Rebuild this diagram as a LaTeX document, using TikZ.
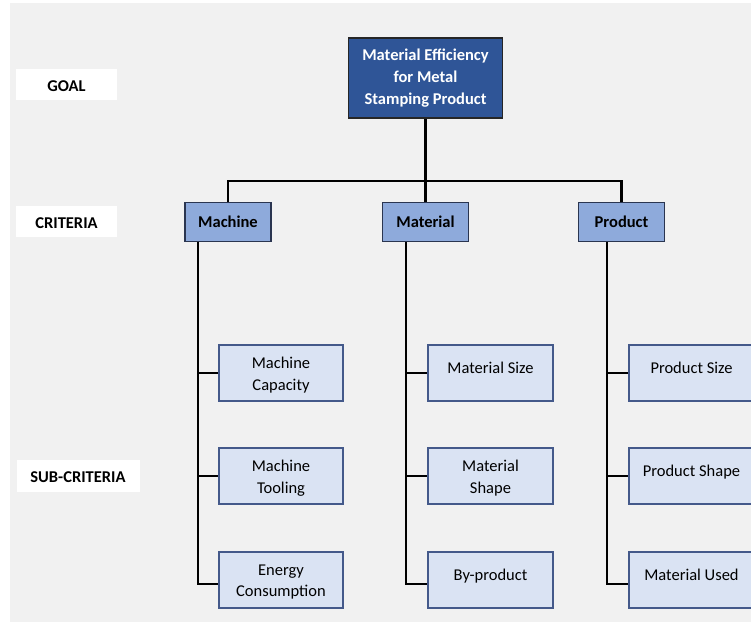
\documentclass[tikz,border=0pt]{standalone}
\usepackage{fontspec}
\setmainfont{Carlito}
\usetikzlibrary{calc}
\definecolor{bggray}{HTML}{F1F1F1}
\definecolor{goalblue}{HTML}{2F5597}
\definecolor{critblue}{HTML}{8EAADB}
\definecolor{subblue}{HTML}{DAE3F3}
\definecolor{subedge}{HTML}{44598A}
\definecolor{critedge}{HTML}{2A3550}
\newcommand{\oneline}[1]{\raisebox{3.5pt}[\height][\depth]{\strut #1}}
\newcommand{\topline}[1]{\raisebox{0pt}[\dimexpr\height+4pt\relax][\depth]{#1}}
\newcommand{\lvltext}[1]{\raisebox{-2pt}[\height][\depth]{#1}}
\tikzset{
  lvlbox/.style={fill=white, draw=none, inner sep=0pt, font=\bfseries\fontsize{16.5}{20}\selectfont},
  goalbox/.style={fill=goalblue, draw=black!85, line width=1.3pt, minimum width=154pt, minimum height=80pt, inner sep=0pt, align=center, text=white, font=\bfseries\fontsize{16.5}{22}\selectfont},
  critbox/.style={fill=critblue, draw=critedge, line width=1.3pt, minimum width=86pt, minimum height=39pt, inner sep=0pt, font=\bfseries\fontsize{16.5}{20}\selectfont},
  subbox/.style={fill=subblue, draw=subedge, line width=1.3pt, minimum width=125pt, minimum height=56pt, inner sep=0pt, align=center, font=\fontsize{16.5}{21.5}\selectfont},
  link/.style={draw=black, line width=2.1pt}
}
\begin{document}
\begin{tikzpicture}[x=1pt,y=-1pt]
\useasboundingbox (0,0) rectangle (751,622);
\clip (0,0) rectangle (751,622);
\fill[bggray] (10,3) rectangle (751,622);
% level labels
\node[lvlbox, minimum width=101pt, minimum height=31pt] (lgoal) at (66.5,84.5) {\lvltext{GOAL}};
\node[lvlbox, minimum width=101pt, minimum height=31pt] (lcrit) at (66.5,221.5) {\lvltext{CRITERIA}};
\node[lvlbox, minimum width=123pt, minimum height=32pt] (lsub) at (78,475.5) {\lvltext{SUB-CRITERIA}};
% goal
\node[goalbox] (goal) at (425.5,78) {Material Efficiency\\for Metal\\Stamping Product};
% criteria
\node[critbox] (mc) at (228,222) {\raisebox{1pt}{Machine}};
\node[critbox] (mt) at (425.5,222) {\raisebox{1pt}{Material}};
\node[critbox] (pc) at (621.5,222) {\raisebox{1pt}{Product}};
% sub-criteria
\node[subbox, minimum width=124pt] (s11) at (281,373) {\topline{Machine}\\Capacity};
\node[subbox, minimum width=124pt] (s12) at (281,476) {\topline{Machine}\\Tooling};
\node[subbox, minimum width=124pt] (s13) at (281,580) {\topline{Energy}\\Consumption};
\node[subbox] (s21) at (490.5,373) {\oneline{Material Size}};
\node[subbox] (s22) at (490.5,476) {\topline{Material}\\Shape};
\node[subbox] (s23) at (490.5,580) {\oneline{By-product}};
\node[subbox] (s31) at (691.5,373) {\oneline{Product Size}};
\node[subbox] (s32) at (691.5,476) {\oneline{Product Shape}};
\node[subbox] (s33) at (691.5,580) {\oneline{Material Used}};
% connectors
\coordinate (bar) at (425.5,181);
\draw[link] (goal.south) -- (mt.north);
\draw[link] (mc.north) |- (bar) -| (pc.north);
% machine column
\coordinate (c1) at ($(mc.south west)+(14,0)$);
\draw[link] (c1) |- ($(s13.west)+(0,4)$);
\draw[link] (c1 |- s11.west) -- (s11.west);
\draw[link] (c1 |- s12.west) -- (s12.west);
% material column
\coordinate (c2) at ($(mt.south west)+(24,0)$);
\draw[link] (c2) |- ($(s23.west)+(0,4)$);
\draw[link] (c2 |- s21.west) -- (s21.west);
\draw[link] (c2 |- s22.west) -- (s22.west);
% product column
\coordinate (c3) at ($(pc.south west)+(29.5,0)$);
\draw[link] (c3) |- ($(s33.west)+(0,4)$);
\draw[link] (c3 |- s31.west) -- (s31.west);
\draw[link] (c3 |- s32.west) -- (s32.west);
\end{tikzpicture}
\end{document}
